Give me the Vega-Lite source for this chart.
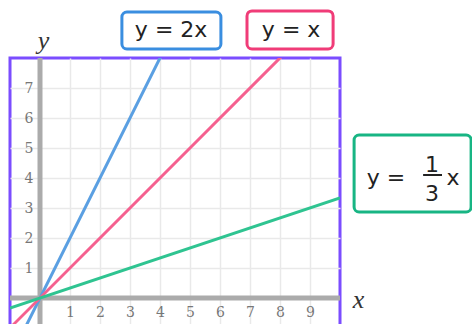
{
  "$schema": "https://vega.github.io/schema/vega-lite/v6.json",
  "width": 330,
  "height": 276,
  "autosize": {"type": "none"},
  "padding": {"left": 10, "top": 58, "right": 132, "bottom": 0},
  "background": "white",
  "config": {
    "view": {"stroke": "#7b4dff", "strokeWidth": 3}
  },
  "datasets": {
    "lines": [
      {"eq": "y = 2x", "x": -1, "y": -2},
      {"eq": "y = 2x", "x": 4.6, "y": 9.2},
      {"eq": "y = x", "x": -1.2, "y": -1.2},
      {"eq": "y = x", "x": 9, "y": 9},
      {"eq": "y = 1/3 x", "x": -1, "y": -0.3333},
      {"eq": "y = 1/3 x", "x": 10, "y": 3.3333}
    ],
    "boxes": [
      {"eq": "y = 2x", "x": 2.73, "x2": 6.03, "y": 9.53, "y2": 8.3},
      {"eq": "y = x", "x": 6.9, "x2": 9.77, "y": 9.57, "y2": 8.3},
      {"eq": "y = 1/3 x", "x": 10.47, "x2": 14.37, "y": 5.43, "y2": 2.87}
    ],
    "labels": [
      {"t": "y = 2x", "x": 4.37, "y": 8.93},
      {"t": "y = x", "x": 8.37, "y": 8.93},
      {"t": "y =", "x": 11.53, "y": 4.0},
      {"t": "1", "x": 13.07, "y": 4.43},
      {"t": "3", "x": 13.07, "y": 3.48},
      {"t": "x", "x": 13.77, "y": 4.0}
    ],
    "bar": [
      {"x": 12.77, "x2": 13.4, "y": 4.1}
    ]
  },
  "layer": [
    {
      "data": {"name": "lines"},
      "mark": {"type": "line", "clip": true, "strokeWidth": 3, "opacity": 0},
      "encoding": {
        "x": {
          "field": "x", "type": "quantitative",
          "scale": {"domain": [-1, 10], "nice": false, "zero": false},
          "axis": {
            "title": "x", "values": [1, 2, 3, 4, 5, 6, 7, 8, 9],
            "offset": -36, "ticks": false, "domain": false,
            "labelFont": "DejaVu Serif", "labelFontSize": 14, "labelColor": "#777777",
            "labelPadding": 7,
            "grid": true, "gridColor": "#e9e9e9", "gridWidth": 1.5,
            "titleFont": "Liberation Serif", "titleFontStyle": "italic", "titleFontWeight": "normal",
            "titleFontSize": 26, "titleColor": "#333333",
            "titleX": 348, "titleY": 1, "titleAlign": "center", "titleBaseline": "middle", "titleAngle": 0
          }
        },
        "y": {
          "field": "y", "type": "quantitative",
          "scale": {"domain": [-1.2, 8], "nice": false, "zero": false},
          "axis": {
            "title": "y", "values": [1, 2, 3, 4, 5, 6, 7],
            "offset": -30, "ticks": false, "domain": false,
            "labelFont": "DejaVu Serif", "labelFontSize": 14, "labelColor": "#777777",
            "labelPadding": 7,
            "grid": true, "gridColor": "#e9e9e9", "gridWidth": 1.5,
            "titleFont": "Liberation Serif", "titleFontStyle": "italic", "titleFontWeight": "normal",
            "titleFontSize": 26, "titleColor": "#333333",
            "titleX": 3, "titleY": -18, "titleAlign": "center", "titleBaseline": "middle", "titleAngle": 0
          }
        },
        "color": {
          "field": "eq", "type": "nominal", "legend": null,
          "scale": {"domain": ["y = 2x", "y = x", "y = 1/3 x"], "range": ["#5a9fe2", "#f5608f", "#2fc491"]}
        }
      }
    },
    {
      "data": {"values": [{"x": 0}]},
      "mark": {"type": "rule", "color": "#ababab", "strokeWidth": 5},
      "encoding": {"x": {"field": "x", "type": "quantitative"}}
    },
    {
      "data": {"values": [{"y": 0}]},
      "mark": {"type": "rule", "color": "#ababab", "strokeWidth": 5},
      "encoding": {"y": {"field": "y", "type": "quantitative"}}
    },
    {
      "data": {"name": "lines"},
      "mark": {"type": "line", "clip": true, "strokeWidth": 3},
      "encoding": {
        "x": {"field": "x", "type": "quantitative"},
        "y": {"field": "y", "type": "quantitative"},
        "color": {"field": "eq", "type": "nominal", "legend": null}
      }
    },
    {
      "data": {"name": "boxes"},
      "mark": {"type": "rect", "clip": false, "fill": "white", "strokeWidth": 3, "cornerRadius": 5},
      "encoding": {
        "x": {"field": "x", "type": "quantitative"},
        "x2": {"field": "x2"},
        "y": {"field": "y", "type": "quantitative"},
        "y2": {"field": "y2"},
        "stroke": {
          "field": "eq", "type": "nominal", "legend": null,
          "scale": {"domain": ["y = 2x", "y = x", "y = 1/3 x"], "range": ["#3a8ee0", "#f03c78", "#18b584"]}
        }
      }
    },
    {
      "data": {"name": "labels"},
      "mark": {"type": "text", "font": "DejaVu Sans", "fontSize": 22, "color": "#222222", "align": "center", "baseline": "middle"},
      "encoding": {
        "x": {"field": "x", "type": "quantitative"},
        "y": {"field": "y", "type": "quantitative"},
        "text": {"field": "t"}
      }
    },
    {
      "data": {"name": "bar"},
      "mark": {"type": "rule", "color": "#222222", "strokeWidth": 2},
      "encoding": {
        "x": {"field": "x", "type": "quantitative"},
        "x2": {"field": "x2"},
        "y": {"field": "y", "type": "quantitative"}
      }
    }
  ]
}
